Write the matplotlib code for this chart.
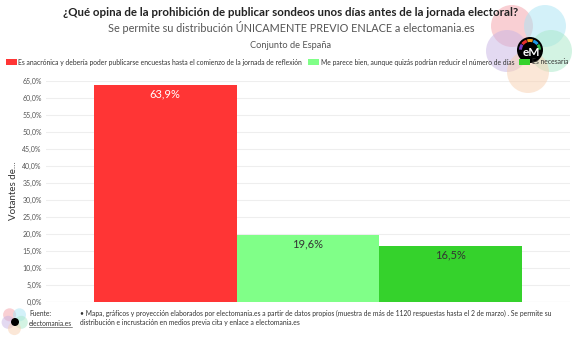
import matplotlib.pyplot as plt
from matplotlib.patches import Circle, Rectangle, Wedge
from matplotlib.ticker import FuncFormatter

categories = ["Es anacrónica y debería poder publicarse encuestas hasta el comienzo de la jornada de reflexión",
              "Me parece bien, aunque quizás podrían reducir el número de días",
              "Es necesaria"]
values = [63.9, 19.6, 16.5]
colors = ["#ff3535", "#80ff88", "#35d22c"]
label_colors = ["white", "#333333", "#333333"]

plt.rcParams['font.family'] = ['Lato', 'DejaVu Sans']

W, H = 580, 338
fig = plt.figure(figsize=(W / 100, H / 100), dpi=100)


def fx(px):
    return px / W


def fy(py):
    return 1 - py / H


def circ(px, py, r, **kw):
    # circle in pixel units, drawn through inches so it stays round
    c = Circle((px / 100, (H - py) / 100), r / 100, transform=fig.dpi_scale_trans, **kw)
    fig.patches.append(c)


# axes: left 46, right 570, top 81, bottom 302
ax = fig.add_axes([fx(46), fy(302), fx(570) - fx(46), fy(81) - fy(302)])
xs = list(range(len(values)))
ax.bar(xs, values, width=1.0, color=colors, zorder=2)
for x, v, c in zip(xs, values, label_colors):
    ax.text(x, v - 1.0, f"{v:.1f}%".replace(".", ","), ha="center", va="top",
            fontsize=8, color=c, zorder=3)

ax.set_xlim(-0.836, 2.836)
ax.set_ylim(0, 65)
ax.set_yticks(range(0, 66, 5))
ax.yaxis.set_major_formatter(FuncFormatter(lambda v, p: f"{v:.1f}%".replace(".", ",")))
ax.tick_params(axis="y", labelsize=5, colors="#555555", length=0, pad=3)
ax.tick_params(axis="x", bottom=False, labelbottom=False)
ax.grid(axis="y", color="#eeeeee", linewidth=0.8, zorder=0)
for s in ax.spines.values():
    s.set_visible(False)
ax.axhline(0, color="#dddddd", linewidth=0.8, zorder=1)
fig.text(fx(14), fy(191), "Votantes de...", rotation=90, ha="center", va="center",
         fontsize=7, color="#333333")

# logo circles top right
logo = [("#f4a0a8", 512, 26), ("#a8e4f4", 545, 26), ("#c8b4e4", 507, 51),
        ("#a8e8c8", 551, 51), ("#f8d0b0", 528, 72)]
for col, cx, cy in logo:
    circ(cx, cy, 21, facecolor=col, alpha=0.5, edgecolor="none", zorder=0)
circ(530, 50, 13, facecolor="black", edgecolor="none", zorder=1)
ring = ["#7b3fc4", "#e8312f", "#f39a1e", "#1e9be8", "#2eb84a"]
for i, col in enumerate(ring):
    a0 = 180 - i * 36
    w = Wedge((5.30, (H - 50) / 100), 0.11, a0 - 34, a0 - 2, width=0.03,
              transform=fig.dpi_scale_trans, facecolor=col, edgecolor="none", zorder=2)
    fig.patches.append(w)
fig.text(fx(531), fy(53), "eM", ha="center", va="center", fontsize=8.5,
         color="white", fontweight="bold", zorder=3)

# titles
fig.text(fx(291), fy(13), "¿Qué opina de la prohibición de publicar sondeos unos días antes de la jornada electoral?",
         ha="center", va="center", fontsize=8.3, fontweight="bold", color="#222222", zorder=4)
fig.text(fx(291), fy(27), "Se permite su distribución ÚNICAMENTE PREVIO ENLACE a electomania.es",
         ha="center", va="center", fontsize=7.8, color="#555555")
fig.text(fx(291), fy(45), "Conjunto de España", ha="center", va="center",
         fontsize=6.7, color="#555555")

# legend
leg_x = [5.5, 308, 519]
for lx, col, name in zip(leg_x, colors, categories):
    fig.patches.append(Rectangle((fx(lx), fy(65)), 11 / W, 6 / H,
                                 transform=fig.transFigure, facecolor=col,
                                 edgecolor="none", zorder=3))
    fig.text(fx(lx + 13), fy(62), name, ha="left", va="center",
             fontsize=4.9, color="#333333", zorder=4)

# footer logo and source
for col, cx, cy in logo:
    circ(15 + (cx - 530) * 0.3, 322 + (cy - 50) * 0.3, 6.5, facecolor=col,
         alpha=0.5, edgecolor="none")
circ(15, 322, 4, facecolor="black", edgecolor="none")
fig.text(fx(29), fy(313), "Fuente:", ha="left", va="center", fontsize=4.8, color="#333333")
fig.text(fx(29), fy(323), "electomania.es", ha="left", va="center", fontsize=4.8,
         color="#333333")
fig.add_artist(plt.Line2D([fx(29), fx(72)], [fy(327), fy(327)], color="#333333",
                          linewidth=0.4, transform=fig.transFigure))
fig.text(fx(80), fy(313),
         "• Mapa, gráficos y proyección elaborados por electomania.es a partir de datos propios "
         "(muestra de más de 1120 respuestas hasta el 2 de marzo) . Se permite su",
         ha="left", va="center", fontsize=4.85, color="#333333")
fig.text(fx(80), fy(323), "distribución e incrustación en medios previa cita y enlace a electomania.es",
         ha="left", va="center", fontsize=4.85, color="#333333")

fig.savefig("out.png", dpi=100)
